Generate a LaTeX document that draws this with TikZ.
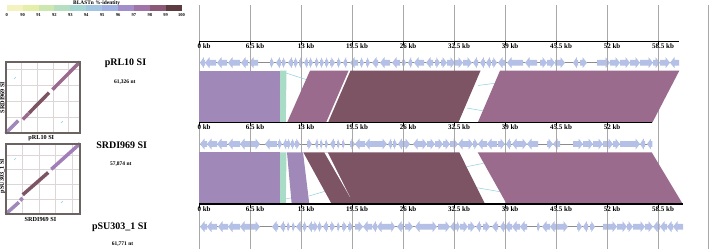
\documentclass[tikz,border=0pt]{standalone}
\usepackage{fontspec}
\setmainfont{Liberation Serif}
\definecolor{lpurp}{HTML}{A088B8}
\definecolor{mintc}{HTML}{A8DCC6}
\definecolor{mauvec}{HTML}{9B6B8E}
\definecolor{darkm}{HTML}{7C5464}
\definecolor{plot2up}{HTML}{A27EB8}
\definecolor{genec}{HTML}{B4C0E6}
\definecolor{bbone}{HTML}{8C8C8C}
\definecolor{hitline}{HTML}{8ECFE2}
\definecolor{plotframe}{HTML}{6B6262}
\definecolor{plotgrid}{HTML}{DDD6D6}
\definecolor{gridc}{HTML}{A8A8A8}
\definecolor{lg1}{HTML}{F4F2BE}
\definecolor{lg2}{HTML}{E6EFAA}
\definecolor{lg3}{HTML}{CDE7B0}
\definecolor{lg4}{HTML}{B5DFC0}
\definecolor{lg5}{HTML}{A6D6D2}
\definecolor{lg6}{HTML}{A2C6E2}
\definecolor{lg7}{HTML}{9FB0E2}
\definecolor{lg8}{HTML}{A28ECA}
\definecolor{lg9}{HTML}{A074A8}
\definecolor{lg10}{HTML}{8C5878}
\definecolor{lg11}{HTML}{5C3C40}
\newsavebox\kbbox
\newcommand\kbtext[1]{\sbox\kbbox{#1}\makebox[0pt][l]{\hspace{-.5\wd\kbbox}#1 kb}}
\newcommand\drawgenes[2]{%
  \foreach \ga/\gb/\gd in {#2}{%
    \pgfmathsetmacro\gbase{(\ga+\gb)/2-(\gd)*(\gb-\ga)/2}%
    \pgfmathsetmacro\gtip{(\ga+\gb)/2+(\gd)*(\gb-\ga)/2}%
    \pgfmathsetmacro\gh{\gtip-(\gd)*min(4.5,0.75*(\gb-\ga))}%
    \fill[genec] (\gbase,#1-2.9) -- (\gh,#1-2.9) -- (\gh,#1-5.5) -- (\gtip,#1) -- (\gh,#1+5.5) -- (\gh,#1+2.9) -- (\gbase,#1+2.9) -- cycle;
  }}
\tikzset{
  seqname/.style={font=\fontsize{10}{12}\selectfont\bfseries},
  seqlen/.style={font=\fontsize{5.5}{6.5}\selectfont\bfseries},
  kblab/.style={font=\fontsize{7}{8}\selectfont\bfseries, anchor=north},
  plotlab/.style={font=\fontsize{6.2}{7}\selectfont\bfseries},
  leglab/.style={font=\fontsize{4.5}{5}\selectfont\bfseries},
  gridline/.style={gridc, line width=0.4pt},
  axisline/.style={black, line width=1.2pt},
  tickmark/.style={black, line width=0.8pt},
  backbone/.style={bbone, line width=0.8pt},
  hit/.style={hitline, line width=0.5pt},
  dotseg/.style={line width=3.5pt, line cap=butt},
  pframe/.style={plotframe, line width=1.8pt},
  pgrid/.style={plotgrid, line width=0.8pt},
}
\begin{document}
\begin{tikzpicture}[x=1pt,y=-1pt, every node/.style={inner sep=0pt}]
\useasboundingbox (0,0) rectangle (709,249);
\fill[white] (0,0) rectangle (709,249);

% ---------- legend ----------
\node[font=\fontsize{5.4}{6}\selectfont\bfseries, anchor=base] (legtitle) at (96.7,4.1) {BLASTn \%-identity};
\foreach \c [count=\i from 0] in {lg1,lg2,lg3,lg4,lg5,lg6,lg7,lg8,lg9,lg10,lg11}{
  \fill[\c] ({6.7+\i*15.9},4.8) rectangle ({6.7+(\i+1)*15.9},10.8);
}
\foreach \t [count=\i from 0] in {0,90,91,92,93,94,95,96,97,98,99,100}{
  \node[leglab] (leg\i) at ({6.7+\i*15.9},15) {\t};
}

% ---------- gene tracks ----------
\draw[backbone] (199.3,62.7) -- (679.3,62.7);
\draw[backbone] (199.3,144) -- (652.3,144);
\draw[backbone] (199.3,226.7) -- (683.3,226.7);
\drawgenes{62.7}{200/205/-1,205/216/-1,217/227/-1,228/240/-1,241/248/-1,249/258/-1,
270/274/1,276/281/-1,282/286/1,288/293/-1,294/298/1,299/303/1,304/308/-1,309/313/1,315/319/1,
320/324/1,325/329/1,330/335/1,337/341/1,343/347/-1,350/358/-1,360/364/1,366/370/1,372/378/-1,
380/390/-1,392/400/-1,402/406/1,408/412/-1,414/424/-1,426/433/-1,435/440/1,441/447/1,447/455/1,
455/463/1,463/472/1,473/478/-1,480/485/-1,486/491/-1,492/497/1,498/505/-1,507/523/-1,525/537/-1,
540/547/1,547/555/1,555/565/1,573/578/-1,580/587/1,597/610/1,610/620/1,620/630/1,630/640/1,
640/653/1,653/660/1,660/670/1,670/679/-1}
\drawgenes{144}{200/207/-1,207/217/-1,217/227/-1,228/240/-1,240/250/-1,250/260/1,265/277/-1,
278/282/1,283/287/-1,287/291/1,291/295/1,295/300/1,307/312/1,315/318/-1,320/323/1,325/328/1,
330/335/-1,337/340/1,342/345/1,350/355/1,355/365/-1,365/372/-1,372/387/1,388/392/-1,393/397/1,
398/403/-1,403/410/1,413/420/-1,420/427/1,427/435/1,435/443/1,443/450/1,450/458/1,458/465/-1,
465/473/1,473/478/1,478/487/-1,487/497/-1,498/505/1,506/511/-1,512/520/-1,520/527/1,527/538/-1,
547/553/1,553/560/-1,573/583/1,583/593/1,593/603/1,603/613/1,613/620/1,620/640/1,640/645/-1,
647/652.3/-1}
\drawgenes{226.7}{200/207/-1,207/217/-1,218/228/-1,228/240/-1,240/250/-1,250/260/1,272/278/-1,
280/285/-1,287/290/1,292/295/1,296/302/-1,303/307/1,308/313/-1,313/318/1,318/322/1,323/328/-1,
330/335/1,337/340/1,342/347/1,348/353/1,355/363/1,363/372/-1,372/377/-1,377/390/-1,390/395/1,
397/403/-1,405/413/1,415/427/-1,427/437/1,438/450/1,450/456/-1,456/460/1,460/468/1,468/475/1,
476/481/-1,483/490/1,492/498/-1,500/505/-1,505/512/-1,512/520/-1,520/527/-1,537/540/1,542/550/-1,
550/558/-1,558/568/1,577/582/1,583/588/-1,590/595/1,603/617/1,617/627/1,627/633/1,633/645/1,
645/653/1,653/660/-1,660/667/-1,667/673/-1,673/683/-1}

% ---------- vertical grid ----------
\foreach \k in {0,6.5,13,19.5,26,32.5,39,45.5,52,58.5}{
  \draw[gridline] ({199.3+\k*7.846},5) -- ({199.3+\k*7.846},249);
}
\draw[gridline] (708,5) -- (708,249);

% ---------- weak hits ----------
\draw[hit] (286,73) -- (306,79.5);
\draw[hit] (478,85.5) -- (497,83);
\draw[hit] (467,108) -- (484,111);
\draw[hit] (280,200) -- (292,197.7);
\draw[hit] (309,196) -- (327,190.7);
\draw[hit] (466.7,166.7) -- (483.3,163.3);
\draw[hit] (476.7,187.7) -- (500,191.7);

% ---------- block 1 ----------
\fill[lpurp] (199.3,70.7) rectangle (280,122.7);
\fill[mintc] (280,70.7) -- (286.5,70.7) -- (285.8,122.7) -- (280,122.7) -- cycle;
\fill[mauvec] (310,70.7) -- (348.5,70.7) -- (326,122.7) -- (287,122.7) -- cycle;
\fill[darkm] (350.5,70.7) -- (480.5,70.7) -- (458.3,122.7) -- (328,122.7) -- cycle;
\fill[mauvec] (500,70.7) -- (679.3,70.7) -- (652.3,122.7) -- (477.7,122.7) -- cycle;

% ---------- block 2 ----------
\fill[lpurp] (199.3,152.3) rectangle (280,204);
\fill[mintc] (280,152.3) -- (286.5,152.3) -- (285.8,204) -- (280,204) -- cycle;
\fill[lpurp] (287,152.3) -- (303,152.3) -- (309.3,204) -- (291.7,204) -- cycle;
\fill[darkm] (303.3,152.3) -- (459.3,152.3) -- (485,204) -- (331.7,204) -- cycle;
\fill[white] (324.3,152.3) -- (327.6,152.3) -- (350,197) -- cycle;
\fill[mauvec] (477.7,152.3) -- (651.7,152.3) -- (682.7,204) -- (506.7,204) -- cycle;

% ---------- axes ----------
\draw[axisline] (199.3,41.3) -- (679.3,41.3);
\draw[axisline] (199.3,122.7) -- (652.3,122.7);
\draw[axisline] (199.3,204) -- (683.3,204);
\foreach \k [count=\i] in {0,6.5,13,19.5,26,32.5,39,45.5,52,58.5}{
  \draw[tickmark] ({199.3+\k*7.846},40.5) -- ({199.3+\k*7.846},44.8);
  \node[kblab] (ta\i) at ({199.3+\k*7.846},43.6) {\kbtext{\k}};
  \draw[tickmark] ({199.3+\k*7.846},203.2) -- ({199.3+\k*7.846},207.5);
  \node[kblab] (tc\i) at ({199.3+\k*7.846},206.3) {\kbtext{\k}};
}
\foreach \k [count=\i] in {0,6.5,13,19.5,26,32.5,39,45.5,52}{
  \draw[tickmark] ({199.3+\k*7.846},121.9) -- ({199.3+\k*7.846},126.2);
  \node[kblab] (tb\i) at ({199.3+\k*7.846},124.6) {\kbtext{\k}};
}

% ---------- sequence names ----------
\node[seqname] (n1) at (125.5,63.3) {pRL10 SI};
\node[seqlen] (l1) at (124.7,81.7) {61,326 nt};
\node[seqname] (n2) at (121.7,145) {SRDI969 SI};
\node[seqlen] (l2) at (120.8,164.3) {57,874 nt};
\node[seqname] (n3) at (119.7,227.3) {pSU303\_1 SI};
\node[seqlen] (l3) at (122.5,244.3) {61,771 nt};

% ---------- dot plot 1 ----------
\foreach \gx in {21.5,37.2,53,68.7} \draw[pgrid] (\gx,62) -- (\gx,133.3);
\foreach \gy in {69.5,85.5,101.5,117.5} \draw[pgrid] (5.7,\gy) -- (80,\gy);
\draw[hit, line width=0.7pt] (14,79) -- (16,77);
\draw[hit, line width=0.7pt] (61,123) -- (63,121);
\begin{scope}[shift={(5.7pt,-133.3pt)}, x=1.2116pt, y=1.232pt]
  \draw[dotseg, lpurp] (0,0) -- (10.3,10.3);
  \draw[dotseg, mauvec] (14.1,11.2) -- (19,16.1);
  \draw[dotseg, darkm] (19.2,16.4) -- (35.8,33);
  \draw[dotseg, mauvec] (38.6,35.5) -- (61.3,57.9);
\end{scope}
\draw[pframe] (5.7,62) rectangle (80,133.3);
\node[plotlab, rotate=90] (p1y) at (2.4,97.6) {SRDI969 SI};
\node[plotlab] (p1x) at (41.3,137.6) {pRL10 SI};

% ---------- dot plot 2 ----------
\foreach \gx in {22.5,39.2,55.8,72.5} \draw[pgrid] (\gx,143.6) -- (\gx,214);
\foreach \gy in {155,169.8,184.5,199.3} \draw[pgrid] (5.7,\gy) -- (80,\gy);
\draw[hit, line width=0.7pt] (14,160) -- (16,158);
\draw[hit, line width=0.7pt] (61,203) -- (63,201);
\begin{scope}[shift={(5.7pt,-214pt)}, x=1.2838pt, y=1.1397pt]
  \draw[dotseg, lpurp] (0,0) -- (10.3,10.3);
  \draw[dotseg, lpurp] (11.2,11.8) -- (13.2,14);
  \draw[dotseg, darkm] (13.3,16.9) -- (33.1,36.4);
  \draw[dotseg, plot2up] (35.5,39.2) -- (57.9,61.8);
\end{scope}
\draw[pframe] (5.7,143.6) rectangle (80,214);
\node[plotlab, rotate=90] (p2y) at (2.4,176) {pSU303\_1 SI};
\node[plotlab] (p2x) at (40.5,219.3) {SRDI969 SI};
\end{tikzpicture}
\end{document}
